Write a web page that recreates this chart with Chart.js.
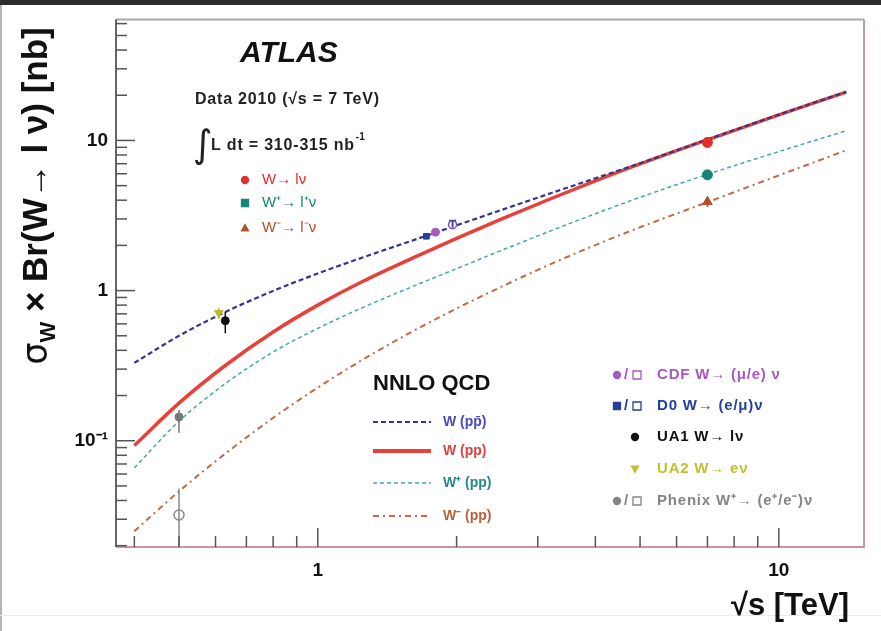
<!DOCTYPE html>
<html>
<head>
<meta charset="utf-8">
<script src="https://cdn.jsdelivr.net/npm/chart.js@4.4.0/dist/chart.umd.min.js"></script>
<style>
  html, body { margin: 0; padding: 0; background: #fff; }
  #wrap { position: relative; width: 881px; height: 631px; }
</style>
</head>
<body>
<div id="wrap"><canvas id="xsecChart" width="881" height="631"></canvas></div>
<script>
// sqrt(s) grid of the NNLO curves [TeV]
var energies = [0.4, 0.5, 0.63, 0.8, 1.0, 1.25, 1.6, 2.0, 2.5, 3.2, 4.0, 5.0, 7.0, 10, 14];
// sigma x BR [nb]
var wPPbar   = [0.33, 0.50, 0.72, 0.995, 1.30, 1.66, 2.15, 2.72, 3.44, 4.45, 5.6, 7.05, 10.15, 14.85, 21.05];
var wPP      = [0.093, 0.178, 0.317, 0.53, 0.80, 1.15, 1.64, 2.23, 2.99, 4.09, 5.37, 6.97, 10.1, 14.8, 21.0];
var wPlusPP  = [0.066, 0.135, 0.24, 0.39, 0.56, 0.77, 1.06, 1.40, 1.85, 2.5, 3.25, 4.18, 5.94, 8.43, 11.6];
var wMinusPP = [0.025, 0.046, 0.082, 0.142, 0.226, 0.346, 0.532, 0.76, 1.06, 1.50, 2.01, 2.64, 3.88, 5.85, 8.6];

// measurements: energy, value, low, high
var atlasW      = { e: [7.0],  v: [9.7],  lo: [9.1],  hi: [10.3] };
var atlasWplus  = { e: [7.0],  v: [5.9],  lo: [5.5],  hi: [6.3] };
var atlasWminus = { e: [7.0],  v: [3.9],  lo: [3.6],  hi: [4.2] };
var cdfFilled   = { e: [1.8],  v: [2.45], lo: [2.33], hi: [2.57] };
var cdfOpen     = { e: [1.96], v: [2.75], lo: [2.6],  hi: [2.9] };
var d0Filled    = { e: [1.72], v: [2.3],  lo: [2.2],  hi: [2.4] };
var d0Open      = { e: [1.96], v: [2.8],  lo: [2.65], hi: [2.95] };
var ua1         = { e: [0.63], v: [0.63], lo: [0.52], hi: [0.72] };
var ua2         = { e: [0.61], v: [0.71], lo: [0.65], hi: [0.77] };
var phenixPlus  = { e: [0.5],  v: [0.144], lo: [0.113], hi: [0.16] };
var phenixMinus = { e: [0.5],  v: [0.032], lo: [0.01],  hi: [0.048] };

// axis ticks
var xTickValues = [1, 10];
var xTickLabels = ['1', '10'];
var yTickValues = [0.1, 1, 10];
var yTickLabels = ['10\u207B\u00B9', '1', '10'];
var xMinorTicks = [0.4, 0.5, 0.6, 0.7, 0.8, 0.9, 2, 3, 4, 5, 6, 7, 8, 9];
var yMinorTicks = [0.02, 0.03, 0.04, 0.05, 0.06, 0.07, 0.08, 0.09,
                   0.2, 0.3, 0.4, 0.5, 0.6, 0.7, 0.8, 0.9,
                   2, 3, 4, 5, 6, 7, 8, 9, 20, 30, 40, 50, 60];

var FONT = '"Liberation Sans", Arial, sans-serif';

function curve(label, ys, color, width, dash, order) {
  return {
    label: label,
    data: energies.map(function (e, i) { return { x: e, y: ys[i] }; }),
    borderColor: color, borderWidth: width, borderDash: dash,
    pointRadius: 0, cubicInterpolationMode: 'monotone', fill: false, order: order
  };
}

function points(label, m, style, color, open, radius, rotation) {
  return {
    label: label,
    data: m.e.map(function (e, i) { return { x: e, y: m.v[i] }; }),
    errLo: m.lo, errHi: m.hi, errColor: color,
    showLine: false, pointStyle: style, pointRadius: radius, pointRotation: rotation || 0,
    pointBackgroundColor: open ? '#fff' : color, pointBorderColor: color,
    pointBorderWidth: open ? 1.5 : 1, order: 0
  };
}

var tickAndFrame = {
  id: 'tickAndFrame',
  afterDraw: function (chart) {
    var ctx = chart.ctx, a = chart.chartArea;
    var xs = chart.scales.x, ys = chart.scales.y;
    ctx.save();
    // page frame
    ctx.fillStyle = '#2c2c2c';
    ctx.fillRect(0, 0, 881, 5);
    ctx.fillStyle = '#b5b5b5';
    ctx.fillRect(0, 5, 2, 626);
    ctx.fillStyle = '#ececec';
    ctx.fillRect(0, 615, 881, 1);
    // plot frame
    ctx.lineWidth = 2;
    ctx.strokeStyle = '#a8a8a8';
    ctx.beginPath(); ctx.moveTo(a.left, a.top); ctx.lineTo(a.right, a.top); ctx.stroke();
    ctx.strokeStyle = '#c4989e';
    ctx.beginPath(); ctx.moveTo(a.right, a.top); ctx.lineTo(a.right, a.bottom);
    ctx.lineTo(a.left, a.bottom); ctx.stroke();
    ctx.strokeStyle = '#666';
    ctx.beginPath(); ctx.moveTo(a.left, a.top); ctx.lineTo(a.left, a.bottom); ctx.stroke();
    // ticks inside
    ctx.lineWidth = 1.5;
    ctx.strokeStyle = '#555';
    function yTick(v, len) {
      var p = ys.getPixelForValue(v);
      if (p < a.top || p > a.bottom) return;
      ctx.beginPath(); ctx.moveTo(a.left, p); ctx.lineTo(a.left + len, p); ctx.stroke();
    }
    function xTick(v, len) {
      var p = xs.getPixelForValue(v);
      if (p < a.left || p > a.right) return;
      ctx.beginPath(); ctx.moveTo(p, a.bottom); ctx.lineTo(p, a.bottom - len); ctx.stroke();
    }
    yTickValues.forEach(function (v) { yTick(v, 19); });
    yMinorTicks.forEach(function (v) { yTick(v, 11); });
    xTickValues.forEach(function (v) { xTick(v, 19); });
    xMinorTicks.forEach(function (v) { xTick(v, 11); });
    ctx.restore();
  }
};

var errorBars = {
  id: 'errorBars',
  afterDatasetsDraw: function (chart) {
    var ctx = chart.ctx, a = chart.chartArea;
    var xs = chart.scales.x, ys = chart.scales.y;
    ctx.save();
    ctx.beginPath(); ctx.rect(a.left, a.top, a.right - a.left, a.bottom - a.top); ctx.clip();
    chart.data.datasets.forEach(function (ds) {
      if (!ds.errLo) return;
      ctx.strokeStyle = ds.errColor; ctx.lineWidth = 1.5;
      ds.data.forEach(function (pt, i) {
        var px = xs.getPixelForValue(pt.x);
        ctx.beginPath();
        ctx.moveTo(px, ys.getPixelForValue(ds.errLo[i]));
        ctx.lineTo(px, ys.getPixelForValue(ds.errHi[i]));
        ctx.stroke();
      });
    });
    ctx.restore();
  }
};

function marker(ctx, style, x, y, color, open, r) {
  ctx.save();
  ctx.fillStyle = open ? '#fff' : color;
  ctx.strokeStyle = color;
  ctx.lineWidth = 1.3;
  ctx.beginPath();
  if (style === 'circle') ctx.arc(x, y, r, 0, Math.PI * 2);
  else if (style === 'rect') ctx.rect(x - r, y - r, 2 * r, 2 * r);
  else if (style === 'triangle') { ctx.moveTo(x, y - r); ctx.lineTo(x + r, y + r * 0.8); ctx.lineTo(x - r, y + r * 0.8); ctx.closePath(); }
  else if (style === 'tridown') { ctx.moveTo(x, y + r); ctx.lineTo(x + r, y - r * 0.8); ctx.lineTo(x - r, y - r * 0.8); ctx.closePath(); }
  ctx.fill(); ctx.stroke();
  ctx.restore();
}

var annotations = {
  id: 'annotations',
  afterDraw: function (chart) {
    var ctx = chart.ctx;
    ctx.save();
    ctx.textBaseline = 'alphabetic';
    ctx.textAlign = 'left';

    // ATLAS label
    ctx.fillStyle = '#111';
    ctx.font = 'italic bold 30px ' + FONT;
    ctx.fillText('ATLAS', 240, 62);
    ctx.fillStyle = '#222';
    ctx.font = 'bold 16px ' + FONT;
    ctx.letterSpacing = '0.8px';
    ctx.fillText('Data 2010 (\u221As = 7 TeV)', 195, 104);
    var lum = 'L dt = 310-315 nb';
    ctx.fillText(lum, 211, 150);
    var lw = ctx.measureText(lum).width;
    ctx.letterSpacing = '0px';
    ctx.font = '38px "DejaVu Sans"';
    ctx.fillText('\u222B', 193, 157);
    ctx.font = 'bold 10px ' + FONT;
    ctx.fillText('-1', 212 + lw, 140);

    // ATLAS data legend
    ctx.font = '15px ' + FONT;
    ctx.textBaseline = 'middle';
    marker(ctx, 'circle', 245, 180, '#e0302a', false, 3.5);
    ctx.fillStyle = '#e0302a'; ctx.fillText('W\u2192 l\u03BD', 262, 180);
    marker(ctx, 'rect', 245, 203, '#17857a', false, 3.5);
    ctx.fillStyle = '#17857a'; ctx.fillText('W\u207A\u2192 l\u207A\u03BD', 262, 203);
    marker(ctx, 'triangle', 245, 228, '#b0502a', false, 3.5);
    ctx.fillStyle = '#b0502a'; ctx.fillText('W\u207B\u2192 l\u207B\u03BD', 262, 228);

    // NNLO legend
    ctx.fillStyle = '#111';
    ctx.font = 'bold 22px ' + FONT;
    ctx.textBaseline = 'alphabetic';
    ctx.fillText('NNLO QCD', 373, 390);
    var nnlo = [
      { y: 422, color: '#33358f', w: 2, dash: [5, 3], text: 'W (pp\u0304)', tc: '#4a4ab8' },
      { y: 451, color: '#e8403a', w: 4, dash: [], text: 'W (pp)', tc: '#e04040' },
      { y: 483, color: '#45a8a4', w: 1.5, dash: [4, 3], text: 'W\u207A (pp)', tc: '#238a86' },
      { y: 516, color: '#c06a45', w: 2, dash: [6, 4, 2, 4], text: 'W\u207B (pp)', tc: '#b8603c' }
    ];
    ctx.textBaseline = 'middle';
    ctx.font = 'bold 14px ' + FONT;
    nnlo.forEach(function (r) {
      ctx.save();
      ctx.strokeStyle = r.color; ctx.lineWidth = r.w; ctx.setLineDash(r.dash);
      ctx.beginPath(); ctx.moveTo(373, r.y); ctx.lineTo(431, r.y); ctx.stroke();
      ctx.restore();
      ctx.fillStyle = r.tc;
      ctx.fillText(r.text, 443, r.y);
    });

    // other experiments legend
    ctx.font = 'bold 15px ' + FONT;
    var rows = [
      { y: 375, c: '#a858c0', f: 'circle', o: 'rect', text: 'CDF W\u2192 (\u03BC/e) \u03BD' },
      { y: 406, c: '#23409a', f: 'rect', o: 'rect', text: 'D0 W\u2192 (e/\u03BC)\u03BD' },
      { y: 437, c: '#111', f: 'circle', o: null, text: 'UA1 W\u2192 l\u03BD' },
      { y: 469, c: '#c0c030', f: 'tridown', o: null, text: 'UA2 W\u2192 e\u03BD' },
      { y: 501, c: '#858585', f: 'circle', o: 'rect', text: 'Phenix W\u207A\u2192 (e\u207A/e\u207B)\u03BD' }
    ];
    rows.forEach(function (r) {
      if (r.o) {
        marker(ctx, r.f, 617, r.y, r.c, false, 3.5);
        ctx.fillStyle = r.c; ctx.fillText('/', 624, r.y);
        marker(ctx, r.o, 637, r.y, r.c, true, 4);
      } else {
        marker(ctx, r.f, 635, r.y, r.c, false, 3.5);
      }
      ctx.fillStyle = r.c;
      ctx.letterSpacing = '0.8px';
      ctx.fillText(r.text, 657, r.y);
      ctx.letterSpacing = '0px';
    });

    // axis titles
    ctx.fillStyle = '#111';
    ctx.textBaseline = 'alphabetic';
    ctx.save();
    ctx.translate(47, 196);
    ctx.rotate(-Math.PI / 2);
    var fSig = '35px "DejaVu Sans"', fSub = 'bold 22px ' + FONT, fMain = 'bold 35px ' + FONT;
    var rest = ' \u00D7 Br(W\u2192 l \u03BD) [nb]';
    ctx.font = fSig; var w1 = ctx.measureText('\u03C3').width;
    ctx.font = fSub; var w2 = ctx.measureText('W').width;
    ctx.font = fMain; var w3 = ctx.measureText(rest).width;
    var x0 = -(w1 + w2 + w3) / 2;
    ctx.font = fSig; ctx.fillText('\u03C3', x0, 0);
    ctx.font = fSub; ctx.fillText('W', x0 + w1, 8);
    ctx.font = fMain; ctx.fillText(rest, x0 + w1 + w2, 0);
    ctx.restore();

    ctx.textAlign = 'right';
    ctx.font = 'bold 31px ' + FONT;
    ctx.fillText('\u221As [TeV]', 849, 615);
    ctx.restore();
  }
};

var ctx = document.getElementById('xsecChart').getContext('2d');
var xsecChart = new Chart(ctx, {
  type: 'line',
  data: {
    datasets: [
      points('ATLAS W', atlasW, 'circle', '#e0302a', false, 5),
      points('ATLAS W+', atlasWplus, 'circle', '#17857a', false, 5),
      points('ATLAS W-', atlasWminus, 'triangle', '#b0502a', false, 5.5),
      points('CDF', cdfFilled, 'circle', '#a858c0', false, 4),
      points('CDF open', cdfOpen, 'circle', '#7a50b0', true, 4),
      points('D0', d0Filled, 'rect', '#23409a', false, 4),
      points('D0 open', d0Open, 'rect', '#3a3a9c', true, 4),
      points('UA1', ua1, 'circle', '#111', false, 4),
      points('UA2', ua2, 'triangle', '#b8b830', false, 5, 180),
      points('Phenix W+', phenixPlus, 'circle', '#777', false, 4),
      points('Phenix W-', phenixMinus, 'circle', '#888', true, 5),
      curve('W (ppbar)', wPPbar, '#33358f', 2.2, [5, 3], 1),
      curve('W (pp)', wPP, '#e8403a', 3.5, [], 2),
      curve('W+ (pp)', wPlusPP, '#45a8a4', 1.5, [4, 3], 3),
      curve('W- (pp)', wMinusPP, '#c06a45', 2, [6, 4, 2, 4], 4)
    ]
  },
  options: {
    responsive: false,
    animation: false,
    devicePixelRatio: 1,
    layout: { padding: { top: 16, right: 17, left: 0, bottom: 0 } },
    plugins: { legend: { display: false }, tooltip: { enabled: false } },
    scales: {
      x: {
        type: 'logarithmic', min: 0.365, max: 15.3, bounds: 'data',
        grid: { display: false, drawTicks: false }, border: { display: false },
        ticks: {
          autoSkip: false, maxRotation: 0, padding: 12, color: '#111',
          font: { family: FONT, size: 19, weight: 'bold' },
          callback: function (v) { var i = xTickValues.indexOf(v); return i < 0 ? '' : xTickLabels[i]; }
        },
        afterBuildTicks: function (s) { s.ticks = xTickValues.map(function (v) { return { value: v }; }); },
        afterFit: function (s) { s.height = 84; }
      },
      y: {
        type: 'logarithmic', min: 0.0196, max: 64, bounds: 'data',
        grid: { display: false, drawTicks: false }, border: { display: false },
        ticks: {
          autoSkip: false, padding: 8, color: '#111',
          font: { family: FONT, size: 19, weight: 'bold' },
          callback: function (v) { var i = yTickValues.indexOf(v); return i < 0 ? '' : yTickLabels[i]; }
        },
        afterBuildTicks: function (s) { s.ticks = yTickValues.map(function (v) { return { value: v }; }); },
        afterFit: function (s) { s.width = 116; }
      }
    }
  },
  plugins: [errorBars, tickAndFrame, annotations]
});
</script>
</body>
</html>
